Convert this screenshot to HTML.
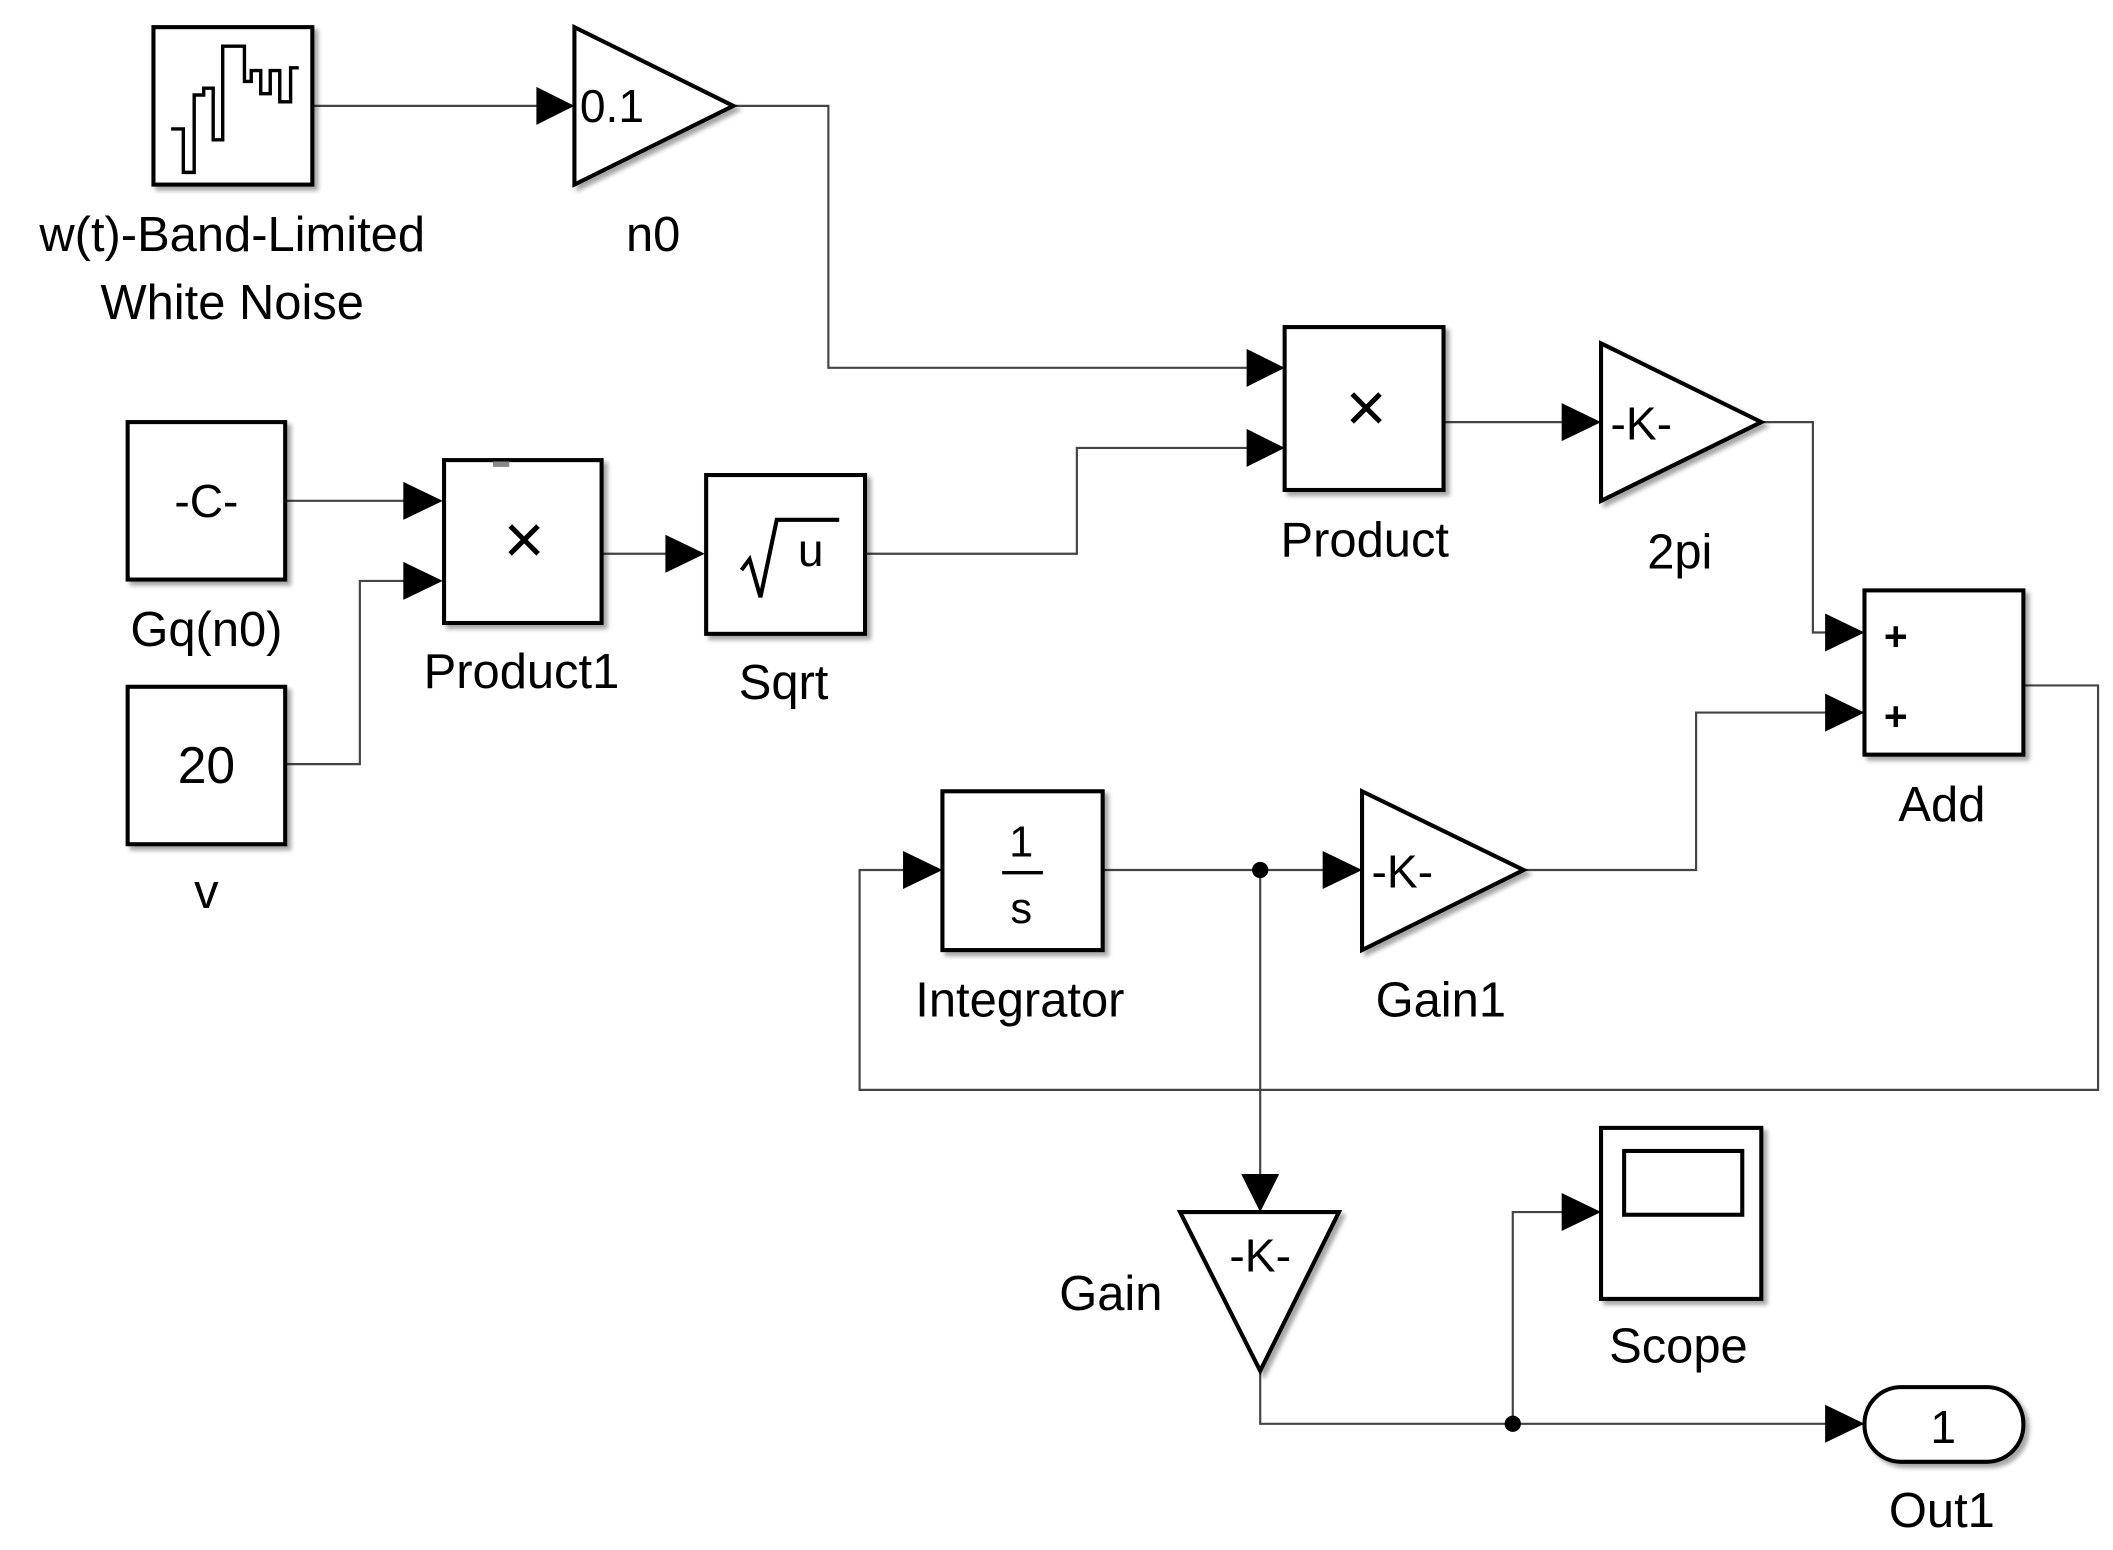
<!DOCTYPE html>
<html><head><meta charset="utf-8"><style>
html,body{margin:0;padding:0;background:#fff;}
svg{display:block;}
text{font-family:"Liberation Sans",Arial,sans-serif;fill:#000;}
</style></head><body>
<svg width="2113" height="1550" viewBox="0 0 1556 1142" preserveAspectRatio="none" xmlns="http://www.w3.org/2000/svg">
<defs>
<filter id="sh" x="-10%" y="-10%" width="130%" height="130%"><feDropShadow dx="3" dy="3" stdDeviation="1.5" flood-color="#000" flood-opacity="0.35"/></filter>
</defs>
<g fill="none" stroke="#444" stroke-width="1.6">
<polyline points="230,78 396,78"/>
<polyline points="540,78 610,78 610,271 918,271"/>
<polyline points="637,408 793,408 793,330 918,330"/>
<polyline points="1063,311 1151,311"/>
<polyline points="1297,311 1335,311 1335,466 1345,466"/>
<polyline points="1122,641 1249,641 1249,525 1345,525"/>
<polyline points="1490,505 1545,505 1545,803 633,803 633,641 666,641"/>
<polyline points="812,641 975,641"/>
<polyline points="928,641 928,866"/>
<polyline points="928,1010 928,1049 1345,1049"/>
<polyline points="1114,1049 1114,893 1151,893"/>
<polyline points="210,369 298,369"/>
<polyline points="210,563 265,563 265,428 298,428"/>
<polyline points="443,408 491,408"/>
</g>
<g fill="#000">
<polygon points="395,64 423,78 395,92"/>
<polygon points="918,257 946,271 918,285"/>
<polygon points="918,316 946,330 918,344"/>
<polygon points="1150,297 1179,311 1150,325"/>
<polygon points="1344,452 1373,466 1344,480"/>
<polygon points="1344,511 1373,525 1344,539"/>
<polygon points="665,627 694,641 665,655"/>
<polygon points="974,627 1003,641 974,655"/>
<polygon points="914,865 928,893 942,865"/>
<polygon points="1150,879 1179,893 1150,907"/>
<polygon points="1344,1035 1373,1049 1344,1063"/>
<polygon points="297,355 326,369 297,383"/>
<polygon points="297,414 326,428 297,442"/>
<polygon points="490,394 519,408 490,422"/>
<circle cx="928" cy="641" r="6"/>
<circle cx="1114" cy="1049" r="6"/>
</g>
<g fill="#fff" stroke="#000" stroke-width="3" filter="url(#sh)">
<rect x="113" y="20" width="117" height="116"/>
<polygon points="423,20 540,78 423,136" stroke-linejoin="miter"/>
<rect x="946" y="241" width="117" height="120"/>
<polygon points="1179,253 1297,311 1179,369"/>
<rect x="1373" y="435" width="117" height="121"/>
<rect x="694" y="583" width="118" height="117"/>
<polygon points="1003,583 1122,641 1003,700"/>
<polygon points="869,893 986,893 928,1010"/>
<rect x="1179" y="831" width="118" height="126"/>
<rect x="1373" y="1022" width="117" height="55" rx="27" ry="27"/>
<rect x="94" y="311" width="116" height="116"/>
<rect x="94" y="506" width="116" height="116"/>
<rect x="327" y="339" width="116" height="120"/>
<rect x="520" y="350" width="117" height="117"/>
</g>
<rect x="1196" y="848" width="87" height="47" fill="#fff" stroke="#000" stroke-width="3"/>
<polyline points="126,95 135,95 135,127 143,127 143,70 150,70 150,65 157,65 157,103 164,103 164,34 180,34 180,60 185,60 185,52 192,52 192,69 199,69 199,52 206,52 206,75 214,75 214,50 220,50" fill="none" stroke="#000" stroke-width="2.5"/>
<polyline points="546,420 552,412 560,440 572,383 618,383" fill="none" stroke="#000" stroke-width="3"/>
<line x1="738" y1="643" x2="768" y2="643" stroke="#000" stroke-width="2.5"/>
<rect x="363" y="340" width="12" height="4" fill="#888"/>
<g font-size="36" text-anchor="middle">
<text x="171" y="185">w(t)-Band-Limited</text>
<text x="171" y="235">White Noise</text>
<text x="481" y="185">n0</text>
<text x="1005" y="410">Product</text>
<text x="1237" y="419">2pi</text>
<text x="1430" y="605">Add</text>
<text x="751" y="749">Integrator</text>
<text x="1061" y="749">Gain1</text>
<text x="818" y="965">Gain</text>
<text x="1236" y="1004">Scope</text>
<text x="1430" y="1125">Out1</text>
<text x="152" y="476">Gq(n0)</text>
<text x="152" y="669">v</text>
<text x="384" y="507">Product1</text>
<text x="577" y="515">Sqrt</text>
</g>
<g font-size="34">
<text x="427" y="90">0.1</text>
<text x="1186" y="324">-K-</text>
<text x="1010" y="654">-K-</text>
<text x="928" y="937" text-anchor="middle">-K-</text>
<text x="152" y="381" text-anchor="middle">-C-</text>
<text x="152" y="577" text-anchor="middle" font-size="38">20</text>
<text x="1431" y="1063" text-anchor="middle">1</text>
<text x="752" y="631" text-anchor="middle" font-size="32">1</text>
<text x="752" y="680" text-anchor="middle" font-size="32">s</text>
<text x="597" y="417" text-anchor="middle" font-size="34">u</text>
<text x="1006" y="318" text-anchor="middle" font-size="52">×</text>
<text x="386" y="415" text-anchor="middle" font-size="52">×</text>
<text x="1396" y="479" text-anchor="middle" font-size="30" font-weight="bold">+</text>
<text x="1396" y="538" text-anchor="middle" font-size="30" font-weight="bold">+</text>
</g>
</svg>
</body></html>
